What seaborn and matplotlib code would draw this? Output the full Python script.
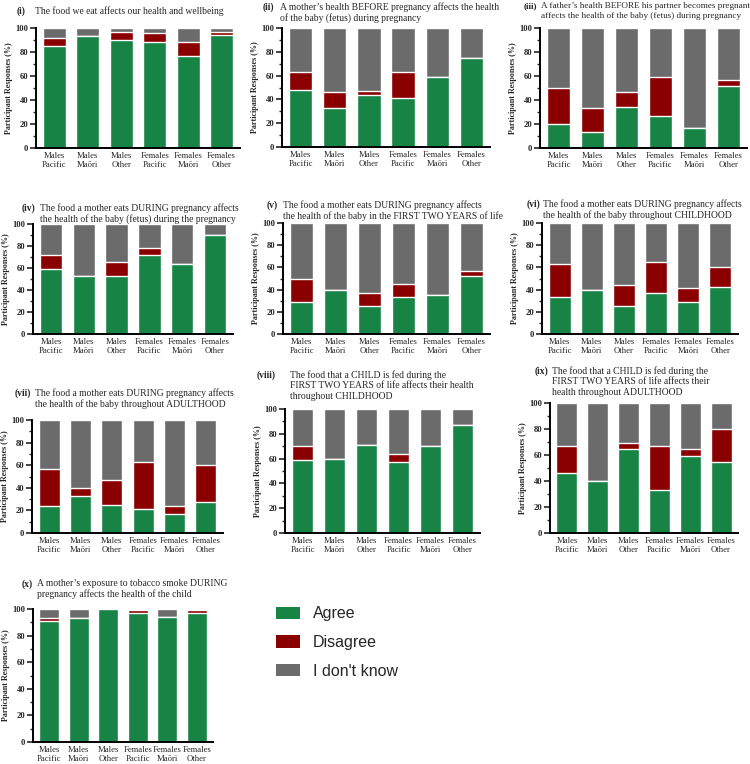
import numpy as np
import pandas as pd
import matplotlib.pyplot as plt
import seaborn as sns
from matplotlib.patches import Patch

# Groups on the x axis
groups = ["Males\nPacific", "Males\nMaōri", "Males\nOther",
          "Females\nPacific", "Females\nMaōri", "Females\nOther"]
responses = ["Agree", "Disagree", "I don't know"]
colors = {"Agree": "#178345", "Disagree": "#8a0000", "I don't know": "#6b6b6b"}

# Percent per group for each statement: agree, disagree, don't know
agree_i = [85, 93, 90, 88, 77, 94]
disagree_i = [7, 0, 7, 8, 11, 3]
dontknow_i = [8, 7, 3, 4, 12, 3]

agree_ii = [48, 33, 44, 41, 59, 75]
disagree_ii = [15, 13, 3, 22, 0, 0]
dontknow_ii = [37, 54, 53, 37, 41, 25]

agree_iii = [20, 13, 34, 27, 17, 52]
disagree_iii = [30, 20, 13, 32, 0, 5]
dontknow_iii = [50, 67, 53, 41, 83, 43]

agree_iv = [59, 53, 53, 72, 64, 90]
disagree_iv = [13, 0, 12, 6, 0, 0]
dontknow_iv = [28, 47, 35, 22, 36, 10]

agree_v = [29, 40, 25, 33, 35, 52]
disagree_v = [21, 0, 12, 12, 0, 5]
dontknow_v = [50, 60, 63, 55, 65, 43]

agree_vi = [33, 40, 25, 37, 29, 42]
disagree_vi = [30, 0, 19, 28, 12, 18]
dontknow_vi = [37, 60, 56, 35, 59, 40]

agree_vii = [24, 33, 25, 21, 17, 27]
disagree_vii = [33, 7, 22, 42, 7, 33]
dontknow_vii = [43, 60, 53, 37, 76, 40]

agree_viii = [59, 60, 71, 57, 70, 87]
disagree_viii = [11, 0, 0, 7, 0, 0]
dontknow_viii = [30, 40, 29, 36, 30, 13]

agree_ix = [46, 40, 65, 33, 59, 55]
disagree_ix = [21, 0, 4, 34, 6, 25]
dontknow_ix = [33, 60, 31, 33, 35, 20]

agree_x = [91, 93, 100, 97, 94, 97]
disagree_x = [2, 0, 0, 2, 0, 2.5]
dontknow_x = [7, 7, 0, 1, 6, 0.5]

panels = [
    ("(i)", "The food we eat affects our health and wellbeing",
     agree_i, disagree_i, dontknow_i),
    ("(ii)", "A mother\u2019s health BEFORE pregnancy affects the health\nof the baby (fetus) during pregnancy",
     agree_ii, disagree_ii, dontknow_ii),
    ("(iii)", "A father\u2019s health BEFORE his partner becomes pregnant\naffects the health of the baby (fetus) during pregnancy",
     agree_iii, disagree_iii, dontknow_iii),
    ("(iv)", "The food a mother eats DURING pregnancy affects\nthe health of the baby (fetus) during the pregnancy",
     agree_iv, disagree_iv, dontknow_iv),
    ("(v)", "The food a mother eats DURING pregnancy affects\nthe health of the baby in the FIRST TWO YEARS of life",
     agree_v, disagree_v, dontknow_v),
    ("(vi)", "The food a mother eats DURING pregnancy affects\nthe health of the baby throughout CHILDHOOD",
     agree_vi, disagree_vi, dontknow_vi),
    ("(vii)", "The food a mother eats DURING pregnancy affects\nthe health of the baby throughout ADULTHOOD",
     agree_vii, disagree_vii, dontknow_vii),
    ("(viii)", "The food that a CHILD is fed during the\nFIRST TWO YEARS of life affects their health\nthroughout CHILDHOOD",
     agree_viii, disagree_viii, dontknow_viii),
    ("(ix)", "The food that a CHILD is fed during the\nFIRST TWO YEARS of life affects their\nhealth throughout ADULTHOOD",
     agree_ix, disagree_ix, dontknow_ix),
    ("(x)", "A mother\u2019s exposure to tobacco smoke DURING\npregnancy affects the health of the child",
     agree_x, disagree_x, dontknow_x),
]

sns.set_style("ticks")
plt.rcParams["font.family"] = ["Liberation Serif", "DejaVu Serif"]

W, H = 750, 764
fig = plt.figure(figsize=(W / 100, H / 100), dpi=100)

# axes boxes in pixels: left, top, right, bottom
boxes = [
    (36, 28, 240, 148), (282, 28, 490, 147), (540, 28, 747, 148),
    (33, 224, 233, 334), (283, 223, 490, 334), (542, 223, 738, 334),
    (32, 420, 223, 533), (285, 409, 480, 533), (550, 403, 738, 533),
    (33, 609, 213, 742),
]
# title anchors in pixels: label x, text x, first line y, font size
title_pos = [
    (17, 35, 6, 6.9), (263, 280, 2, 6.9), (524, 541, 2, 6.6),
    (22, 40, 203, 6.9), (267, 283, 200, 6.9), (527, 543, 199, 6.9),
    (15, 35, 388, 6.9), (257, 290, 370, 6.9), (535, 552, 366, 6.9),
    (22, 37, 579, 6.9),
]

for (tag, text, agree, disagree, dontknow), box, tp in zip(panels, boxes, title_pos):
    l, t, r, b = box
    ax = fig.add_axes([l / W, 1 - b / H, (r - l) / W, (b - t) / H])

    df = pd.DataFrame({"group": groups, "Agree": agree,
                       "Disagree": disagree, "I don't know": dontknow})
    df["top_dk"] = df["Agree"] + df["Disagree"] + df["I don't know"]
    df["top_dis"] = df["Agree"] + df["Disagree"]

    # stacked bars drawn back to front
    sns.barplot(data=df, x="group", y="top_dk", color=colors["I don't know"],
                saturation=1, width=0.68, errorbar=None, ax=ax)
    sns.barplot(data=df, x="group", y="top_dis", color=colors["Disagree"],
                saturation=1, width=0.68, errorbar=None, ax=ax)
    sns.barplot(data=df, x="group", y="Agree", color=colors["Agree"],
                saturation=1, width=0.68, errorbar=None, ax=ax)

    ax.set_ylim(0, 100)
    ax.set_xlim(-0.55, 5.55)
    ax.set_yticks(np.arange(0, 101, 20))
    ax.set_yticks(np.arange(0, 101, 10), minor=True)
    ax.tick_params(axis="y", which="major", labelsize=6.2, length=4, width=1.2, pad=1.5)
    ax.tick_params(axis="y", which="minor", length=2.5, width=1)
    ax.tick_params(axis="x", length=0, labelsize=6.2, pad=3)
    for lab in ax.get_yticklabels():
        lab.set_fontweight("bold")
    ax.set_xlabel("")
    ax.set_ylabel("Participant Responses (%)", fontsize=5.8, fontweight="bold", labelpad=1.5)
    sns.despine(ax=ax)
    for side in ["left", "bottom"]:
        ax.spines[side].set_linewidth(1.4)
        ax.spines[side].set_color("black")

    lx, tx, ty, fs = tp
    fig.text(lx / W, 1 - ty / H, tag, fontsize=fs, fontweight="bold",
             ha="left", va="top")
    fig.text(tx / W, 1 - ty / H, text, fontsize=fs, ha="left", va="top",
             linespacing=1.2 if fs > 6.7 else 1.25)

handles = [Patch(facecolor=colors[k], edgecolor="none") for k in responses]
fig.legend(handles, responses, loc="upper left", bbox_to_anchor=(262 / W, 1 - 592 / H),
           frameon=False, prop={"family": "Liberation Sans", "size": 11.5},
           handlelength=1.45, handleheight=0.8, labelspacing=0.85, handletextpad=0.85)

fig.savefig("out.png", dpi=100)
